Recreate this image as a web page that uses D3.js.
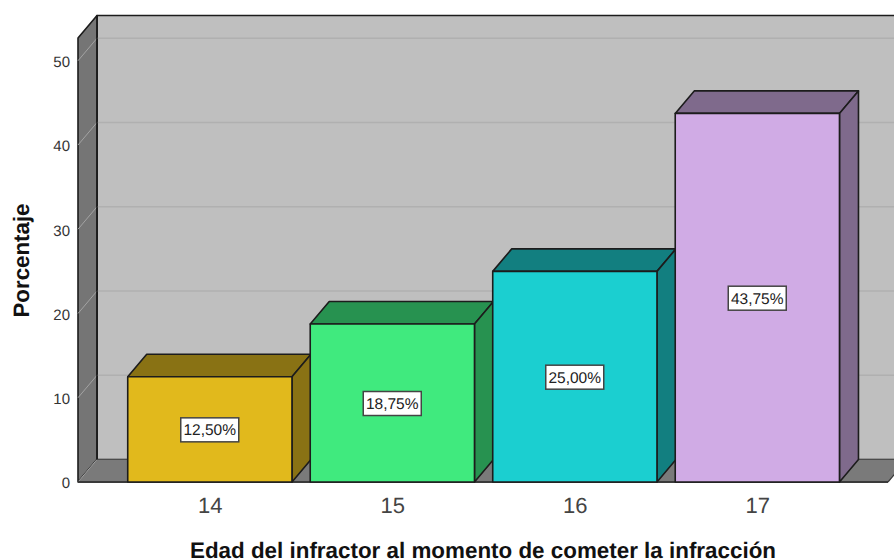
<!DOCTYPE html>
<html>
<head>
<meta charset="utf-8">
<script src="https://cdn.jsdelivr.net/npm/d3@7"></script>
<style>
  html, body { margin: 0; padding: 0; background: #fff; overflow: hidden; }
  text { font-family: "Liberation Sans", Arial, sans-serif; text-rendering: geometricPrecision; }
</style>
</head>
<body>
<svg id="chart" width="894" height="560"></svg>
<script>
var edades = ['14', '15', '16', '17'];
var porcentajes = [12.5, 18.75, 25, 43.75];
var etiquetas = ['12,50%', '18,75%', '25,00%', '43,75%'];
var ticksY = [0, 10, 20, 30, 40, 50];
var coloresFrente = ['#e1b91c', '#40ea7e', '#1bcfd0', '#d0abe5'];
var coloresLado = ['#897214', '#279250', '#127f80', '#7f6a8c'];

var tituloX = 'Edad del infractor al momento de cometer la infracción';
var tituloY = 'Porcentaje';

/*Profundidad del efecto 3D*/
var dx = 19, dy = -22.5;
var borde = '#1c1c1c';

var svg = d3.select('#chart');

var x = d3.scaleBand()
    .domain(edades)
    .range([119, 849])
    .paddingInner(0.1)
    .paddingOuter(0.05);

var y = d3.scaleLinear()
    .domain([0, 52.7])
    .range([482, 38]);

var izq = 78, der = 888;
var y0 = y(0), yTop = y(52.7);

function poly(puntos, fill) {
    return svg.append('polygon')
        .attr('points', puntos.map(function(p) { return p.join(','); }).join(' '))
        .attr('fill', fill)
        .attr('stroke', borde)
        .attr('stroke-width', 1.6)
        .attr('stroke-linejoin', 'round');
}

/*Pared del fondo, pared lateral y suelo*/
poly([[izq + dx, yTop + dy], [der + dx, yTop + dy], [der + dx, y0 + dy], [izq + dx, y0 + dy]], '#bfbfbf');
poly([[izq, yTop], [izq + dx, yTop + dy], [izq + dx, y0 + dy], [izq, y0]], '#757575');
svg.append('polygon')
    .attr('points', [[izq, y0], [izq + dx, y0 + dy], [der + dx, y0 + dy], [der, y0]].join(' '))
    .attr('fill', '#7a7a7a');

/*Lineas de la cuadricula*/
ticksY.slice(1).forEach(function(t) {
    svg.append('line')
        .attr('x1', izq + dx).attr('x2', der + dx)
        .attr('y1', y(t) + dy).attr('y2', y(t) + dy)
        .attr('stroke', '#b0b0b0').attr('stroke-width', 1.4);
    svg.append('line')
        .attr('x1', izq).attr('x2', izq + dx)
        .attr('y1', y(t)).attr('y2', y(t) + dy)
        .attr('stroke', '#a3a3a3').attr('stroke-width', 1);
});
svg.append('line')
    .attr('x1', izq).attr('x2', izq + dx)
    .attr('y1', y0).attr('y2', y0 + dy)
    .attr('stroke', '#a3a3a3').attr('stroke-width', 1);

/*Bordes que quedan encima de la cuadricula*/
svg.append('line')
    .attr('x1', izq + dx).attr('x2', izq + dx)
    .attr('y1', yTop + dy).attr('y2', y0 + dy)
    .attr('stroke', borde).attr('stroke-width', 1.6);
svg.append('line')
    .attr('x1', izq).attr('x2', der)
    .attr('y1', y0).attr('y2', y0)
    .attr('stroke', '#3a3a3a').attr('stroke-width', 1.8);
svg.append('line')
    .attr('x1', der).attr('x2', der + dx)
    .attr('y1', y0).attr('y2', y0 + dy)
    .attr('stroke', '#3a3a3a').attr('stroke-width', 1.2);

/*Barras*/
edades.forEach(function(e, i) {
    var x0 = x(e) - 0.4, x1 = x(e) + x.bandwidth() - 0.4, yv = y(porcentajes[i]);
    poly([[x0, yv], [x0 + dx, yv + dy], [x1 + dx, yv + dy], [x1, yv]], coloresLado[i]);
    poly([[x1, yv], [x1 + dx, yv + dy], [x1 + dx, y0 + dy], [x1, y0]], coloresLado[i]);
    poly([[x0, yv], [x1, yv], [x1, y0], [x0, y0]], coloresFrente[i]);
});

/*Etiquetas de valor*/
edades.forEach(function(e, i) {
    var cx = x(e) + x.bandwidth() / 2 - 0.5;
    var cy = (y(porcentajes[i]) + y0) / 2 + 0.5;
    svg.append('rect')
        .attr('x', cx - 29).attr('y', cy - 12)
        .attr('width', 58).attr('height', 24)
        .attr('fill', '#fff')
        .attr('stroke', '#444').attr('stroke-width', 1.5);
    svg.append('text')
        .attr('x', cx).attr('y', cy + 5.5)
        .attr('text-anchor', 'middle')
        .attr('font-size', 15.5)
        .attr('fill', '#222')
        .text(etiquetas[i]);
});

/*Ejes*/
var ejeY = svg.append('g')
    .attr('transform', 'translate(' + izq + ',1)')
    .call(d3.axisLeft(y).tickValues(ticksY).tickSize(0).tickPadding(8));
ejeY.select('.domain').remove();
ejeY.selectAll('text').attr('font-size', 15).attr('fill', '#333')
    .style('font-family', '"Liberation Sans", Arial, sans-serif');

var ejeX = svg.append('g')
    .attr('transform', 'translate(0,' + y0 + ')')
    .call(d3.axisBottom(x).tickSize(0).tickPadding(15));
ejeX.select('.domain').remove();
ejeX.selectAll('text').attr('font-size', 22).attr('fill', '#444')
    .style('font-family', '"Liberation Sans", Arial, sans-serif');

/*El titulo no tiene descendentes: la linea base queda como en el original*/
svg.append('text')
    .attr('x', 483).attr('y', 557.5)
    .attr('text-anchor', 'middle')
    .attr('font-size', 22.4)
    .attr('font-weight', 'bold')
    .attr('fill', '#111')
    .text(tituloX);

svg.append('text')
    .attr('transform', 'translate(29,260.5) rotate(-90)')
    .attr('text-anchor', 'middle')
    .attr('font-size', 22.3)
    .attr('font-weight', 'bold')
    .attr('fill', '#111')
    .text(tituloY);
</script>
</body>
</html>
